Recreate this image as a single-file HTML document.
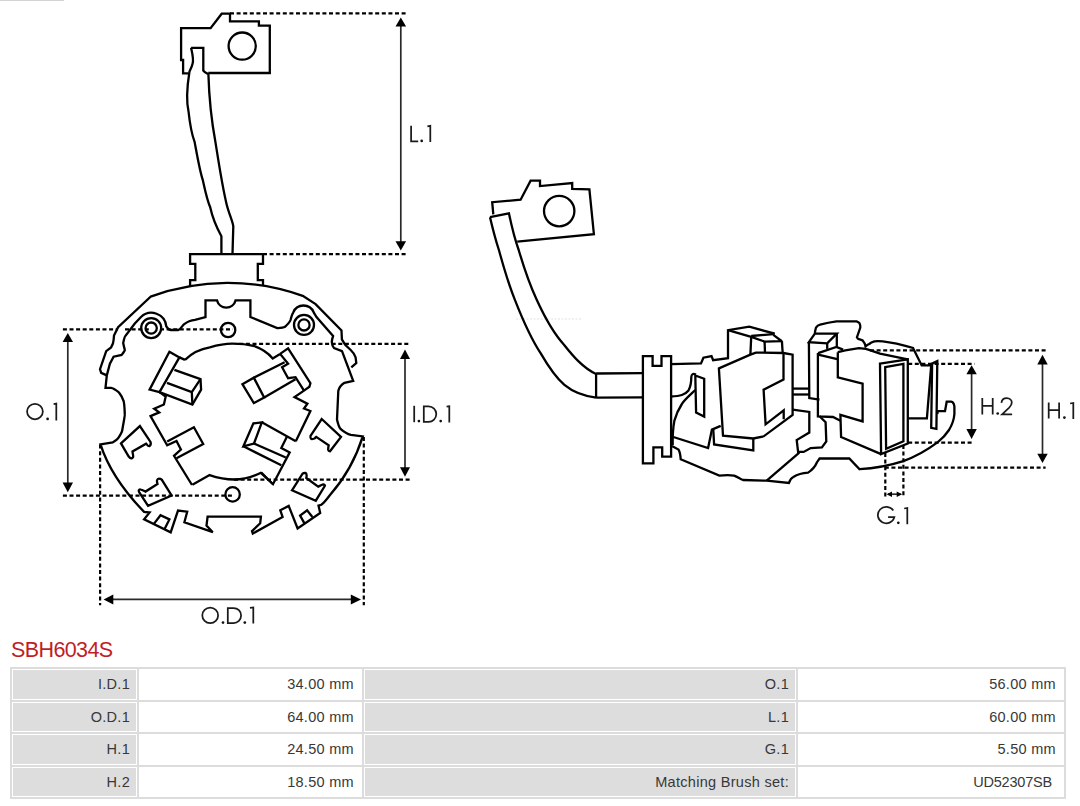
<!DOCTYPE html>
<html><head><meta charset="utf-8">
<style>
html,body{margin:0;padding:0;background:#fff;}
body{width:1080px;height:806px;position:relative;overflow:hidden;font-family:"Liberation Sans",sans-serif;}
#draw{position:absolute;left:0;top:0;}
.title{position:absolute;left:11px;top:637.5px;font-size:21.5px;line-height:24px;color:#bf1e26;letter-spacing:-0.6px;white-space:nowrap;}
.tb{position:absolute;left:10px;top:667px;width:1056px;height:132px;background:#dcdcdc;}
.c{position:absolute;box-sizing:border-box;border:1px solid #fff;font-size:14.5px;color:#383838;text-align:right;white-space:nowrap;letter-spacing:0.3px;}
.g{background:#dddddd;}
.w{background:#ffffff;}
</style></head><body>
<svg id="draw" width="1080" height="806" viewBox="0 0 1080 806"><g fill="none" stroke="#000" stroke-width="2.2" stroke-dasharray="4 2.6"><path d="M230.0,13.4 L405.9,13.4"/><path d="M263.0,254.1 L405.9,254.1"/><path d="M62.9,329.4 L118.0,329.4"/><path d="M125.0,329.4 L151.0,329.4"/><path d="M160.0,329.4 L232.8,329.4"/><path d="M239.3,343.8 L410.7,343.8"/><path d="M62.9,495.6 L232.0,495.6"/><path d="M234.0,479.7 L410.7,479.7"/><path d="M100.1,444.6 L100.1,605.3"/><path d="M363.8,437.0 L363.8,605.3"/><path d="M870.0,350.3 L1045.6,350.3"/><path d="M884.8,467.6 L1045.6,467.6"/><path d="M908.2,363.9 L974.5,363.9"/><path d="M908.2,442.6 L972.0,442.6"/><path d="M885.3,453.0 L885.3,497.0"/><path d="M903.4,445.0 L903.4,497.0"/></g><g fill="none" stroke="#2a2a2a" stroke-width="1.7"><path d="M400.8,22.0 L400.8,246.0"/><path d="M67.8,338.0 L67.8,487.0"/><path d="M405.0,354.0 L405.0,472.0"/><path d="M108.0,599.4 L356.0,599.4"/><path d="M1042.5,360.0 L1042.5,458.0"/><path d="M971.6,370.0 L971.6,434.0"/><path d="M888.0,494.2 L900.5,494.2"/></g><g fill="#000"><polygon points="400.8,17.4 395.5,26.6 406.1,26.6"/><polygon points="400.8,250.6 395.5,241.2 406.1,241.2"/><polygon points="67.8,333.1 62.599999999999994,342 73.0,342"/><polygon points="67.8,492.2 62.599999999999994,482.5 73.0,482.5"/><polygon points="405,349.4 400.0,359.1 410.0,359.1"/><polygon points="405,476.7 400.0,467.2 410.0,467.2"/><polygon points="103.6,599.4 113.3,594.4 113.3,604.4"/><polygon points="361,599.4 350.8,594.4 350.8,604.4"/><polygon points="1042.5,354.8 1037.3,364.4 1047.7,364.4"/><polygon points="1042.5,463 1037.3,453.8 1047.7,453.8"/><polygon points="971.6,365.2 966.4,374.3 976.8000000000001,374.3"/><polygon points="971.6,439 966.4,429 976.8000000000001,429"/><polygon points="886.5,494.2 892,491.45 892,496.95"/><polygon points="902.2,494.2 896.7,491.45 896.7,496.95"/></g><g fill="none" stroke="#000" stroke-width="2.3" stroke-linejoin="miter" stroke-miterlimit="3"><path d="M188.3,73.3 L183.1,73.3 L183.1,60.0 L181.1,60.0 L181.1,28.1 L210.6,28.1 L221.7,13.7 L230.0,13.7 L230.0,21.4 L258.9,21.4 L258.9,25.6 L269.8,25.6 L269.8,73.0 L208.3,73.0"/><circle cx="242.2" cy="46.1" r="13.6"/><path d="M191.1,47.8 L203.3,47.8 L203.3,70.6 Q204.5,72.5 208.4,74.1 C209,95 211,118 215.4,141.9 C218,158 222,185 226.6,204.2 C229,214 233,222 233.3,226.6 L232.5,254.1"/><path d="M191.1,47.8 C192.5,54 193.5,62 192.5,64 C191.5,68 190,70 189.4,72 C186.5,90 187,105 188.6,112 C190,125 192,135 194.6,141.9 C198,160 200,172 202.8,180 C205,190 207,200 210.2,207.2 C213,220 218,230 221.4,236.2 L221.4,254.1"/><path d="M190.1,286.1 L190.1,280.2 L195.3,280.2 L195.3,263.8 L190.1,263.8 L190.1,254.1 L263.0,254.1 L263.0,263.8 L257.8,263.8 L257.8,280.2 L263.0,280.2 L263.0,286.1"/><path d="M106.8,375.4 L101.2,372.9 L100,369.2 L106.2,351.2 L111.1,347.4 C113,344 113.6,342 113.6,340 L114,335.6 L118.1,327.2 L150.6,296.7 A223,223 0 0 1 303.5,296.2 L315.6,304.1 L341.5,330.5 L341.9,339.3 L345.2,344.8 L350.7,350 C354,353 355.6,357.4 355.6,357.4 L356.3,363 L351.3,367.3"/><path d="M106.8,375.4 L109.9,363.6 L113.6,356.7 L121.7,354.9 C124,352 125,350 124.8,349.9 C124,347 123.2,343 123.2,343 C124,339 125,336 125.6,335.6 L134.8,323.5 L141,317 A15,15 0 0 1 166.3,326.3 C168,329 169,330 170.9,330 L178.3,330 C181,329 182,326 183.9,324.4 C188,321 192,320 195,319.8 L205.5,317 L205.5,300.4 L217,300.4 A9.6,9.6 0 0 0 235.6,300.4 L250.4,300.4 L250.4,317 L277.2,328.1 C280,328 283,328 285,326.8 C288,324 290,322 290.6,319.8 C291.5,316 292,314 293.3,312.4 A11,11 0 0 1 313.7,312.4 L316.5,317 L333.1,336 C332,339 331.8,342 331.8,342 C332,345 333,347 334,348 L342,351.2 L353.2,380.9 L344.5,382.8 C341,385 339,388 338.3,390.9 L337,419.4 C338,424 339,427 340.5,428.9 C344,432 347,434 350.9,434.9 L362.8,436.4 C356,458 345,478 330,495 C327,499 324,503 321.3,504.8 L318.5,505.6 L320.2,512.9 L297.6,528.5 L288.7,505.9 L280.3,510.3 L282.6,517 L252.8,533.5 L252,531.1 L260.2,523.3 L260.9,516.7 L207.6,516.7 L206.5,525.6 L212.8,532.2 L184.4,522.3 L187.2,511.7 L178,510.6 L170.7,532.3 L144.1,519.4 L149.6,512.5 L144.1,511.9 C125,492 108,468 100.5,444.3 L112.7,442.3 C115,441 117,440 118.2,438.2 C121,434 122,432 122.3,430 C124,420 125,415 124.8,414.4 C124.5,406 124,402 123.5,400.8 C122,396 120,394 118.6,392.1 C116,390 113,388 111.1,387.8 L105.5,387.8 Z"/><circle cx="151.2" cy="328.1" r="10"/><circle cx="151.2" cy="328.1" r="5.6"/><circle cx="304" cy="324.9" r="10"/><circle cx="304" cy="324.9" r="5.6"/><circle cx="228.1" cy="330" r="7.2"/><circle cx="232.6" cy="494.4" r="7.2"/><path d="M185,359.9 C192,353 200,349 209.8,347.4 C218,345 225,343.7 232.1,343.7 C240,343.7 248,344.5 254.5,346.2 C262,349 268,353 272.7,358.4 L280.1,353.9"/><path d="M192.4,484.7 L209.6,475.1 C218,478 226,479.5 234.1,479.5 C244,479.5 252,477 260.9,472.8 L272.8,484"/><path d="M169.4,351.8 L179.4,357.4 L159.5,392.1 L149.6,389.6 Z"/><path d="M179.4,357.4 L185.0,359.9"/><path d="M174.4,369.8 L200.5,379.1 L201.1,389.6 L192.4,404.5 L159.5,392.1"/><path d="M167.0,382.8 L191.8,392.2 L200.5,379.1"/><path d="M191.8,392.2 L192.4,404.5"/><path d="M159.5,392.1 L165.7,396.5 L163.9,404.5 L154.2,408.7 L159.2,412.4 L150.5,416.1 L167.2,445.3 L176.5,440.9 L180.9,449.6 L174.0,455.8 L192.0,485.0"/><path d="M167.2,441.6 L193.9,427.3 L203.2,444.0 L176.5,458.3"/><path d="M280.1,353.9 L288.1,348.4 L310.4,383.2 L309.4,386.7 L304.0,390.6 L294.5,397.1 L307.4,403.6 L304.0,408.5 L310.4,411.0 L295.8,441.3"/><path d="M280.1,353.9 L288.1,363.8 L282.1,367.3 L288.1,378.2 L295.5,377.2 L304.0,390.6"/><path d="M242.4,384.2 L253.8,377.7 L264.2,397.6 L253.8,403.1 Z"/><path d="M253.8,377.7 L284.6,362.3"/><path d="M264.2,397.6 L295.5,379.2"/><path d="M243.4,446.3 L253.4,423.4 L261.8,422.3 L254.0,443.5 Z"/><path d="M261.8,422.3 L295.8,441.3"/><path d="M254.0,443.5 L285.8,457.5"/><path d="M243.4,446.3 L281.3,465.3"/><path d="M286.9,436.8 L281.3,448.0 L289.7,452.4 L273.0,484.2 L261.3,472.5"/><path d="M121,443.4 L139.9,426.1 L150.5,441.9 C151,443.5 150.5,445.5 149.2,446.2 C148,446.5 147,444.5 146.1,443.7 L132.5,451.5 C132.5,453 133.5,455.5 133.1,457.1 C132.5,458.3 131.5,458.5 131.2,458.3 C130,458 129.3,457.3 128.7,456.5 Z"/><path d="M148.1,505.9 L139.3,492.4 C138.8,491.5 138.6,490.8 138.8,490.3 C139.2,489.5 140,489.3 140.6,489.5 C142.5,490 144,491 145.5,491.6 L157.5,484.1 C157,482.5 156.8,481.5 157,480.4 C157.5,479 158.2,478.6 158.8,478.6 C160,478.6 161,479 161.7,479.6 L171.6,495.5 Z"/><path d="M321.7,419 L341,436.9 L330,451.3 C329,451.3 328.5,451 328.2,450 C328,448.5 328.5,446.5 328.7,445.3 L316.2,436.9 C315.5,437.5 315,438.3 314.4,438.5 C313,439 312,439.2 311.3,439 C310.5,438.5 310.3,437 310.5,435.9 Z"/><path d="M292,490.3 L302.4,473.9 C303.3,473 304.3,472.8 305.3,472.9 C306,473.2 306.5,474 306.6,474.7 C306.8,475.8 306.5,477 306.3,477.9 L318.2,486.6 C319.8,485.8 321.5,484.8 323.2,484.4 C324.2,484.3 324.9,485 324.9,485.8 L315.8,500.7 Z"/><path d="M153.7,524.1 L160.5,515.3 L169.4,519.4 L164.6,528.9"/><path d="M304.6,523.6 L300.1,515.6 L307.1,510.3 L312.4,517.0"/><path d="M493.3,214.4 L492.2,202.2 L520.6,199.7 L530.6,180.6 L540.0,180.6 L540.0,186.1 L572.2,183.0 L572.2,188.9 L589.4,189.4 L593.9,234.1 L517.2,241.7"/><circle cx="559.2" cy="211.1" r="15.2"/><path d="M490,217.2 L508.9,213.3 C512,228 515,240 518.7,250 C524,268 529,283 536.6,299.6 C545,318 553,333 564.4,345.2 C573,356 583,368 596.1,374"/><path d="M490,217.2 C493,230 496,241 498.9,250 C504,268 508,283 514.8,299.6 C522,318 530,337 540.6,353.2 C548,366 555,377 564.4,384.9 C573,392 583,396 596.1,397.6"/><path d="M596.1,373.5 L596.1,397.6"/><path d="M596.1,373.5 L642.9,373.1"/><path d="M596.1,397.6 L642.9,397.3"/><path d="M642.9,356.1 L652.6,356.1 L652.6,365.8 L661.5,365.8 L661.5,356.1 L671.1,356.1 L671.1,456.6 L662.2,456.6 L662.2,447.3 L653.4,447.3 L653.4,463.4 L642.9,463.4 Z"/><path d="M671.1,364.2 L701.0,363.4 L703.4,357.7 L711.5,356.1 L713.1,360.2 L728.0,358.2 L728.0,330.2 L749.3,326.7 L773.7,333.4 L773.3,334.9"/><path d="M728.0,330.2 L751.2,336.9 L764.6,341.6 L781.9,341.2 L773.3,334.9"/><path d="M751.2,336.0 L773.3,334.2"/><path d="M751.2,336.9 L750.4,354.6"/><path d="M764.6,341.6 L765.0,352.6"/><path d="M781.9,341.2 L782.7,353.0"/><path d="M718.9,368.4 L750.4,354.6 L755.9,352.6 L783.5,353.0 L792.6,354.6 L792.6,414.8 L763.7,436.3 L753.3,438.5 L723.0,435.6 Z"/><path d="M783.5,353.0 L783.5,379.6 L763.6,389.6 L765.6,424.3 L783.7,410.4 L783.7,419.3"/><path d="M673.3,437.0 L708.1,448.1 L711.9,429.6 L720.7,425.9"/><path d="M713.3,429.6 L714.1,444.4 L753.3,450.4 L753.3,438.5"/><path d="M671.1,396.5 C680,396 685,395 688.5,390.5 C691,386 691.3,382 691.3,377 C691.5,374 693,373.3 696,374.5"/><path d="M695.3,390 C689,396 684,400 681.6,404.5 C678,410 676,415 674.4,420.6 C673,428 672.5,436 672.7,445"/><path d="M695.3,375.5 L704.2,378.7 L704.2,416.6 L696.1,412.6 Z"/><path d="M671.9,445.9 L678.5,449.6 C680,452 680.5,456 680.7,459.3 L719.3,475.6 C726,475 730,475 734.1,475.6 C738,477 740,479 743,480 L766.7,480.7 L788.9,483 C790,480 791,478 793.3,477 C798,474 802,473 808.1,472.6 C812,470 815,467 817,462.2 L819.6,458.5 L849.3,458.5 L859.6,469.2 C872,468.5 888,466 903.3,461.1 C918,456 930,448 937.8,442.2 C943,438 946,434.5 949,430 C952,425 954,420 954.4,414 L954.4,406.7 C954,403.5 953,402 951.1,401.7 L946.7,401.7 L945,411.1 L937.8,411.1 L937.3,414"/><path d="M766.7,480.7 L799.3,452.6"/><path d="M792.6,409.6 L809.3,411.9 L809.3,432.6 L796.7,440.0 L798.1,451.9 L803.7,451.9 L810.7,448.1 L821.9,447.4 L826.3,441.5 L825.6,422.2 L821.1,417.8 L819.6,416.0"/><path d="M792.6,388.6 L808.9,388.6"/><path d="M792.6,394.5 L808.9,394.5"/><path d="M808.9,342.2 L814.9,333.6 L836.8,333.6 L827.2,343.3 Z"/><path d="M827.2,343.3 L827.2,348.9"/><path d="M836.8,333.6 L836.8,347.0"/><path d="M808.9,342.2 L809.3,398.1 L819.5,399.6"/><path d="M814.9,333.6 C815,330 816,328 816,327.6 C817,326 818.5,325 820.1,324.7 C826,323 831,322 836.5,321.3 L856.5,321.3 C858,322 859,322.5 859.5,323.2 C860.5,325 860.5,326 860.3,327.6 L856.9,337.3 C857.5,338.5 858,339 858.8,339.2 C860,339.5 861,339.8 862.5,340.3 C864,342 865,344 865.5,346.3 C867,345 868,344.5 869.2,344 C871,342.5 872.5,342 874.4,341.4 C880,340.5 890,342 905.4,345.8 L913,348 L921.7,365.4 L931.2,365.4 L926.9,418.3 L908.6,418.3"/><path d="M817.9,352.9 L817.9,416.4 L833.0,417.0 L840.4,420.7"/><path d="M818.1,353.1 L836.4,346.9 L843.1,349.6"/><path d="M837.8,352.2 L845.3,350.3 L858.9,348.1 L865.9,348.9 L872.0,350.8 L880.0,353.7 L907.8,359.3"/><path d="M818.1,354.7 L837.3,359.2"/><path d="M837.8,352.2 L837.8,377.3 L862.6,383.6 L862.6,421.4 L840.4,414.8 L841.1,437.0 L881.1,454.1"/><path d="M880.0,363.6 L907.8,359.3 L907.8,443.5 L881.1,454.1 Z"/><path d="M885.2,367.1 L903.4,363.8 L903.4,441.2 L886.1,448.7 Z"/><path d="M932.1,363.6 L937.3,361.0 L936.4,428.8 L931.2,427.9 Z"/></g><g fill="none" stroke="#1a1a1a" stroke-width="1.75" stroke-linecap="butt" stroke-linejoin="miter"><path d="M411.1,125.7 L411.1,141.4 L418.2,141.4"/><path d="M427.4,126.4 L430.3,125.9 L430.3,141.9"/><path d="M27.050000000000004,411.55 A7.9,7.7 0 1 0 42.85,411.55 A7.9,7.7 0 1 0 27.050000000000004,411.55 Z"/><path d="M53.6,404.1 L56.3,403.6 L56.3,420.6"/><path d="M414.2,405.8 L414.2,422.2"/><path d="M423.8,406.4 L428.6,406.4 A7.700000000000017,7.700000000000017 0 0 1 428.6,421.8 L423.8,421.8 Z"/><path d="M446.6,406.7 L449.3,406.2 L449.3,422.4"/><path d="M202.29999999999998,615.4 A7.9,7.7 0 1 0 218.1,615.4 A7.9,7.7 0 1 0 202.29999999999998,615.4 Z"/><path d="M227.8,608 L233.6,608 A7.5,7.5 0 0 1 233.6,623 L227.8,623 Z"/><path d="M250,607.9 L253.3,607.4 L253.3,623.6"/><path d="M982.3,398.1 L982.3,414.4 M992.7,398.1 L992.7,414.4 M982.3,405.8 L992.7,405.8"/><path d="M1001.4,402.8 C1001.8,399.8 1004,398.1 1006.7,398.1 C1009.6,398.1 1011.8,400.2 1011.8,402.6 C1011.8,404.6 1010.8,406 1009.2,407.6 L1002.1,414.3 L1012.1,414.3"/><path d="M1048.7,402.6 L1048.7,418.6 M1059.1,402.6 L1059.1,418.6 M1048.7,410.1 L1059.1,410.1"/><path d="M1070.1,403.5 L1073.3,403 L1073.3,419"/><path d="M893.3,510.6 A8.4,8.2 0 1 0 894.4,517.1 L888.1,517.1"/><path d="M904.2,508.5 L907.3,508 L907.3,524.2"/></g><g fill="#111"><circle cx="421.7" cy="140.9" r="1.35"/><circle cx="47.6" cy="418.9" r="1.35"/><circle cx="418.9" cy="421.1" r="1.35"/><circle cx="440.7" cy="421.1" r="1.35"/><circle cx="223" cy="622.6" r="1.35"/><circle cx="244.8" cy="622.6" r="1.35"/><circle cx="997.7" cy="413.5" r="1.35"/><circle cx="1064.4" cy="417.6" r="1.35"/><circle cx="898.3" cy="522.8" r="1.35"/></g><path d="M516,319 L581,319" stroke="#000" stroke-opacity="0.12" stroke-width="1" stroke-dasharray="2 1.5"/><rect x="0" y="0" width="64" height="1" fill="#d4d4d4"/></svg>
<div class="title">SBH6034S</div>
<div class="tb"></div>
<div class="c g" style="left:12px;top:669px;width:125px;height:31px;line-height:29px;padding-right:6px;">I.D.1</div><div class="c w" style="left:139px;top:669px;width:223px;height:31px;line-height:29px;padding-right:7px;">34.00 mm</div><div class="c g" style="left:364px;top:669px;width:432px;height:31px;line-height:29px;padding-right:6px;">O.1</div><div class="c w" style="left:798px;top:669px;width:266px;height:31px;line-height:29px;padding-right:7px;">56.00 mm</div><div class="c g" style="left:12px;top:702px;width:125px;height:30px;line-height:28px;padding-right:6px;">O.D.1</div><div class="c w" style="left:139px;top:702px;width:223px;height:30px;line-height:28px;padding-right:7px;">64.00 mm</div><div class="c g" style="left:364px;top:702px;width:432px;height:30px;line-height:28px;padding-right:6px;">L.1</div><div class="c w" style="left:798px;top:702px;width:266px;height:30px;line-height:28px;padding-right:7px;">60.00 mm</div><div class="c g" style="left:12px;top:734px;width:125px;height:31px;line-height:29px;padding-right:6px;">H.1</div><div class="c w" style="left:139px;top:734px;width:223px;height:31px;line-height:29px;padding-right:7px;">24.50 mm</div><div class="c g" style="left:364px;top:734px;width:432px;height:31px;line-height:29px;padding-right:6px;">G.1</div><div class="c w" style="left:798px;top:734px;width:266px;height:31px;line-height:29px;padding-right:7px;">5.50 mm</div><div class="c g" style="left:12px;top:767px;width:125px;height:30px;line-height:28px;padding-right:6px;">H.2</div><div class="c w" style="left:139px;top:767px;width:223px;height:30px;line-height:28px;padding-right:7px;">18.50 mm</div><div class="c g" style="left:364px;top:767px;width:432px;height:30px;line-height:28px;padding-right:6px;">Matching Brush set:</div><div class="c w" style="left:798px;top:767px;width:266px;height:30px;line-height:28px;padding-right:11px;letter-spacing:-0.2px;">UD52307SB</div>
</body></html>
